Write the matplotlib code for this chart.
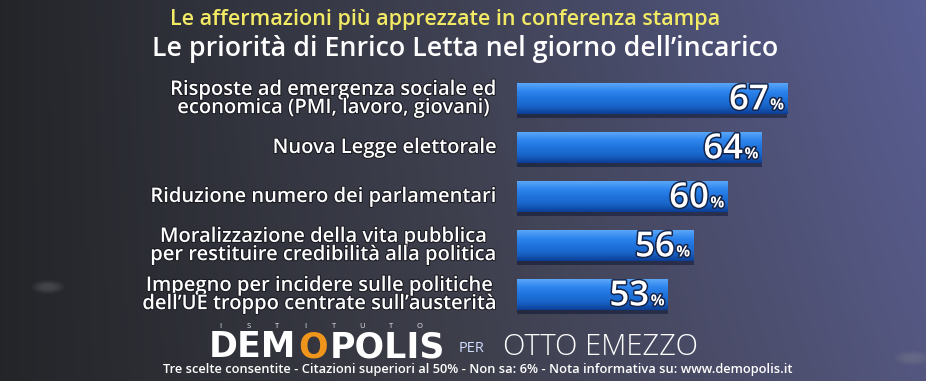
import numpy as np
import matplotlib
matplotlib.use("Agg")
import matplotlib.pyplot as plt
import matplotlib.patheffects as pe
from matplotlib.colors import LinearSegmentedColormap

plt.rcParams['font.family'] = ['Open Sans', 'DejaVu Sans']

# ---- data ----
categories = [
    "Risposte ad emergenza sociale ed\neconomica (PMI, lavoro, giovani)",
    "Nuova Legge elettorale",
    "Riduzione numero dei parlamentari",
    "Moralizzazione della vita pubblica\nper restituire credibilità alla politica",
    "Impegno per incidere sulle politiche\ndell\u2019UE troppo centrate sull\u2019austerità",
]
values = [67, 64, 60, 56, 53]
subtitle = "Le affermazioni più apprezzate in conferenza stampa"
title = "Le priorità di Enrico Letta nel giorno dell\u2019incarico"
footnote = ("Tre scelte consentite - Citazioni superiori al 50% - Non sa: 6% - "
            "Nota informativa su: www.demopolis.it")

W, H = 926, 381
fig = plt.figure(figsize=(W / 100, H / 100), dpi=100)

# ---- background gradient ----
bg = fig.add_axes([0, 0, 1, 1], zorder=0)
xx, yy = np.meshgrid(np.linspace(0, 1, 300), np.linspace(0, 1, 120))
left = np.array([0.14, 0.145, 0.16])
mid = np.array([0.24, 0.245, 0.29])
right = np.array([0.33, 0.34, 0.50])
t = xx[..., None]
img = np.where(t < 0.5, left + (mid - left) * (t / 0.5), mid + (right - mid) * ((t - 0.5) / 0.5))
img = img + (1 - yy[..., None]) * xx[..., None] * np.array([0.02, 0.03, 0.08])
img = np.clip(img, 0, 1)
bg.imshow(img, extent=[0, 1, 0, 1], aspect='auto', origin='upper')
for cx, cy, r, a in [(48 / W, 1 - 287 / H, 0.018, 0.3), (912 / W, 1 - 358 / H, 0.02, 0.3)]:
    for k in range(6):
        bg.add_patch(plt.Circle((cx, cy), r * (1 - k * 0.12), transform=bg.transAxes,
                                color='#9a9aa0', alpha=a / 6, lw=0))
bg.set_xlim(0, 1)
bg.set_ylim(0, 1)
bg.axis('off')

# ---- bars ----
ax_left = 517 / W
ax_w = (905 - 517) / W
top_px, bot_px = 74.5, 319.5
ax = fig.add_axes([ax_left, 1 - bot_px / H, ax_w, (bot_px - top_px) / H], zorder=2)
ax.patch.set_alpha(0)
x_lo = 35.3
ax.set_xlim(x_lo, x_lo + (905 - 517) / 8.53)
ax.set_ylim(len(values) - 0.5, -0.5)
y = np.arange(len(values))
bar_h = 0.62
ax.barh(y + 0.08, values, height=bar_h, color='#0a1230', alpha=0.5, zorder=1)
bars = ax.barh(y, values, height=bar_h, color='#1c6fd8', zorder=2)
cmap = LinearSegmentedColormap.from_list(
    'barg', ['#5aa6f8', '#2f86ee', '#1f73dc', '#1864c8', '#0c3f96'])
grad = np.linspace(0, 1, 64).reshape(-1, 1)
for b in bars:
    y0 = b.get_y()
    ax.imshow(grad, cmap=cmap, aspect='auto', zorder=3,
              extent=[x_lo, b.get_x() + b.get_width(), y0 + b.get_height(), y0])
ax.set_xlim(x_lo, x_lo + (905 - 517) / 8.53)
ax.set_ylim(len(values) - 0.5, -0.5)
ax.axis('off')

stroke = [pe.withStroke(linewidth=2.2, foreground='#14244a')]
for i, v in enumerate(values):
    ax.annotate('%', xy=(v, i), xytext=(-2.5, -7.5), textcoords='offset points',
                ha='right', va='baseline', fontsize=11, color='white',
                fontweight='bold', path_effects=stroke, zorder=5)
    ax.annotate(f'{v}', xy=(v, i), xytext=(-13.5, -7.5), textcoords='offset points',
                ha='right', va='baseline', fontsize=25, color='white',
                fontweight='semibold', path_effects=stroke, zorder=5)
    ax.annotate(categories[i], xy=(x_lo, i), xytext=(-14.5, 0), textcoords='offset points',
                ha='right', va='center', multialignment='center', fontsize=14.5,
                color='white', fontweight='semibold', linespacing=0.88, zorder=5,
                path_effects=[pe.withStroke(linewidth=1.5, foreground='#1a1a22')])

# ---- titles ----
fig.text(445 / W, 1 - 19 / H, subtitle, ha='center', va='center', fontsize=15.5,
         color='#f2ea64', fontweight='semibold', zorder=5)
fig.text(465 / W, 1 - 49 / H, title, ha='center', va='center', fontsize=19.3,
         color='white', fontweight='semibold', zorder=5)

# ---- footer ----
logo_y = 1 - 347 / H
logo_kw = dict(ha='left', va='center', fontsize=25, fontweight='heavy',
               family=['DejaVu Sans'], zorder=5)
fig.text(209 / W, logo_y, 'DEM', color='white', **logo_kw)
fig.text(298 / W, logo_y, 'O', color='#f0951c', **logo_kw)
fig.text(330 / W, logo_y, 'POLIS', color='white', **logo_kw)
for k, ch in enumerate("ISTITUTO"):
    fig.text((220 + k * 28.5) / W, 1 - 327 / H, ch, ha='center', va='center',
             fontsize=5.5, color='#e8e8ee', zorder=5)
fig.text(459 / W, 1 - 349 / H, 'PER', ha='left', va='center', fontsize=10.5,
         color='#cfdcff', zorder=5)
fig.text(503 / W, logo_y, 'OTTO EMEZZO', ha='left', va='center', fontsize=21,
         color='white', fontweight='light', zorder=5)
fig.text(478 / W, 1 - 370 / H, footnote, ha='center', va='center', fontsize=9.3,
         color='white', fontweight='semibold', zorder=5)

fig.savefig('out.png', dpi=100)
